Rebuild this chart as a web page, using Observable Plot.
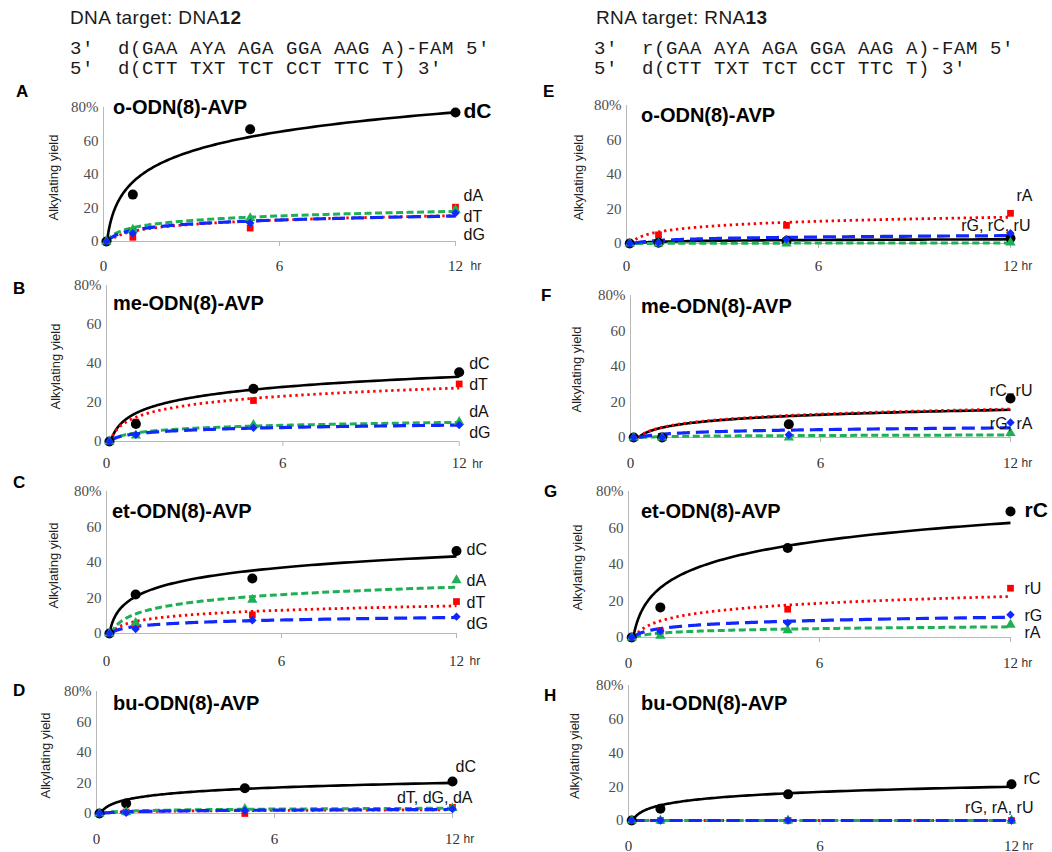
<!DOCTYPE html>
<html>
<head>
<meta charset="utf-8">
<script src="https://cdn.jsdelivr.net/npm/d3@7"></script>
<script src="https://cdn.jsdelivr.net/npm/@observablehq/plot@0.6"></script>
<style>
html,body{margin:0;padding:0;background:#fff;}
#wrap{position:relative;width:1052px;height:852px;overflow:hidden;background:#fff;font-family:"Liberation Sans",Arial,sans-serif;color:#000;}
.t{position:absolute;white-space:pre;line-height:1;}
.hdr{font-size:19px;letter-spacing:0.4px;color:#1a1a1a;}
.mono{font-family:"Liberation Mono","Courier New",monospace;font-size:19px;letter-spacing:0.6px;color:#1a1a1a;}
.letter{font-size:17px;font-weight:bold;}
.ptitle{font-size:20px;font-weight:bold;}
text.tick-serif{font-family:"Liberation Serif","DejaVu Serif","Times New Roman",serif !important;font-size:15px !important;}
</style>
</head>
<body>
<div id="wrap"></div>
<script>
// ---------------- data ----------------
const times = [0.1, 1, 5, 12];            // hr (first sample plotted just right of 0)
const xTicks = [0, 6, 12];
const yTicks = [0, 20, 40, 60, 80];
const yLabel = "Alkylating yield";
const xUnit = "hr";

const headerDNA = ["DNA target: DNA", "12"];
const headerRNA = ["RNA target: RNA", "13"];
const dnaSeq = ["3′  d(GAA AYA AGA GGA AAG A)-FAM 5′", "5′  d(CTT TXT TCT CCT TTC T) 3′"];
const rnaSeq = ["3′  r(GAA AYA AGA GGA AAG A)-FAM 5′", "5′  d(CTT TXT TCT CCT TTC T) 3′"];
const probeTitles = ["o-ODN(8)-AVP", "me-ODN(8)-AVP", "et-ODN(8)-AVP", "bu-ODN(8)-AVP"];
const panelLetters = ["A", "B", "C", "D", "E", "F", "G", "H"];

// A: DNA12, o-ODN(8)-AVP
const A_dC = [0, 28, 67, 77];
const A_dT = [0, 2.5, 8, 20.5];
const A_dA = [0, 7, 14, 19];
const A_dG = [0, 5, 11, 17];
const A_labels = ["dC", "dA", "dT", "dG"];
const A_labelY = [78, 27, 14.5, 4];

// B: DNA12, me-ODN(8)-AVP
const B_dC = [0, 9, 27, 35.5];
const B_dT = [0, 10, 21, 29.5];
const B_dA = [0, 3, 8.5, 10];
const B_dG = [0, 3.5, 7, 8.5];
const B_labels = ["dC", "dT", "dA", "dG"];
const B_labelY = [40, 29, 15, 4.6];

// C: DNA12, et-ODN(8)-AVP
const C_dC = [0, 22, 31, 46.5];
const C_dT = [0, 5, 10.5, 18];
const C_dA = [0, 6, 19, 30];
const C_dG = [0, 2.5, 7.5, 9.5];
const C_labels = ["dC", "dA", "dT", "dG"];
const C_labelY = [47, 29.4, 17.5, 5.6];

// D: DNA12, bu-ODN(8)-AVP
const D_dC = [0, 6.5, 16.5, 21];
const D_dT = [0, 1, 0, 4];
const D_dA = [0, 1, 3, 3.5];
const D_dG = [0, 0.5, 2, 3];
const D_labels = ["dC", "dT, dG, dA"];
const D_labelY = [30.6, 10.5];

// E: RNA13, o-ODN(8)-AVP
const E_rC = [0, 0.5, 1.5, 3];
const E_rA = [0, 5, 10.5, 17.5];
const E_rU = [0, 0, 0, 0.5];
const E_rG = [0, 0.5, 2.5, 6];
const E_labels = ["rA", "rG, rC, rU"];
const E_labelY = [27.7, 10.3];

// F: RNA13, me-ODN(8)-AVP
const F_rC = [0, 0, 7.5, 22];
const F_rU = [0, 0.5, 7, 23];
const F_rA = [0, 0, 0, 2.5];
const F_rG = [0, 0, 1.5, 8.5];
const F_labels = ["rC, rU", "rG, rA"];
const F_labelY = [26.3, 7.9];

// G: RNA13, et-ODN(8)-AVP
const G_rC = [0, 16.5, 49, 69];
const G_rU = [0, 3.5, 15.5, 27];
const G_rA = [0, 1, 4, 7];
const G_rG = [0, 3.5, 8, 12.5];
const G_labels = ["rC", "rU", "rG", "rA"];
const G_labelY = [69.8, 26.5, 11.9, 2.7];

// H: RNA13, bu-ODN(8)-AVP
const H_rC = [0, 7, 15.5, 21.5];
const H_rU = [0, 0, 0, 0];
const H_rA = [0, 0, 0, 0];
const H_rG = [0, 0, 0, 0];
const H_labels = ["rC", "rG, rA, rU"];
const H_labelY = [24.7, 7.3];

// ---------------- styles & layout ----------------
const S = {
  black: {color: "#000000", width: 2.6, dash: null, symbol: "circle", r: 5},
  red:   {color: "#ff0000", width: 2.8, dash: "2.4,3.6", symbol: "square", r: 3.8},
  green: {color: "#1faf55", width: 3, dash: "7,3.5", symbol: "triangle", r: 3.8},
  blue:  {color: "#1028ff", width: 3.2, dash: "13,6", symbol: "diamond2", r: 3.8}
};
const lineOrder = ["black", "red", "green", "blue"];
const dotOrder = ["red", "black", "green", "blue"];
const axisGray = "#b8b8b8";

const panels = [
  {series: {black: A_dC, red: A_dT, green: A_dA, blue: A_dG}, labels: A_labels, labelY: A_labelY, title: probeTitles[0], letter: panelLetters[0],
   g: {x0: 103, x12: 455, y80: 107, y0: 241, xlab: 29, tl: 113, tb: 113.5, lx: 16, lb: 97, yl: 55, sdx: 8, edx: 20, hr: 15, bold: "dC"}},
  {series: {black: B_dC, red: B_dT, green: B_dA, blue: B_dG}, labels: B_labels, labelY: B_labelY, title: probeTitles[1], letter: panelLetters[1],
   g: {x0: 106, x12: 458.7, y80: 285, y0: 441, xlab: 27, tl: 113, tb: 310, lx: 13, lb: 294, yl: 56, sdx: 10, edx: 20, hr: 13}},
  {series: {black: C_dC, red: C_dT, green: C_dA, blue: C_dG}, labels: C_labels, labelY: C_labelY, title: probeTitles[2], letter: panelLetters[2],
   g: {x0: 106, x12: 456, y80: 491, y0: 633, xlab: 32, tl: 112, tb: 518, lx: 13, lb: 488, yl: 58, sdx: 10, edx: 20, hr: 13}},
  {series: {black: D_dC, red: D_dT, green: D_dA, blue: D_dG}, labels: D_labels, labelY: D_labelY, title: probeTitles[3], letter: panelLetters[3],
   g: {x0: 96, x12: 452, y80: 691, y0: 813, xlab: 30, tl: 113, tb: 710, lx: 13, lb: 696, yl: 56, sdx: 3, edx: 20, hr: 11}},
  {series: {black: E_rC, red: E_rA, green: E_rU, blue: E_rG}, labels: E_labels, labelY: E_labelY, title: probeTitles[0], letter: panelLetters[4],
   g: {x0: 626, x12: 1010, y80: 105, y0: 243, xlab: 27, tl: 641, tb: 121.5, lx: 543, lb: 97, yl: 53, sdx: 6, edx: 20, hr: 11}},
  {series: {black: F_rC, red: F_rU, green: F_rA, blue: F_rG}, labels: F_labels, labelY: F_labelY, title: probeTitles[1], letter: panelLetters[5],
   g: {x0: 630, x12: 1010, y80: 295, y0: 437, xlab: 30, tl: 641, tb: 313, lx: 541, lb: 301, yl: 59, sdx: 10, edx: 22, hr: 11}},
  {series: {black: G_rC, red: G_rU, green: G_rA, blue: G_rG}, labels: G_labels, labelY: G_labelY, title: probeTitles[2], letter: panelLetters[6],
   g: {x0: 628, x12: 1010, y80: 491, y0: 637, xlab: 30, tl: 641, tb: 518, lx: 544, lb: 497, yl: 56, sdx: 14, edx: 22, hr: 11, bold: "rC"}},
  {series: {black: H_rC, red: H_rU, green: H_rA, blue: H_rG}, labels: H_labels, labelY: H_labelY, title: probeTitles[3], letter: panelLetters[7],
   g: {x0: 628, x12: 1011, y80: 685, y0: 820, xlab: 30, tl: 641, tb: 710, lx: 544, lb: 701, yl: 59, sdx: 12, edx: 22, hr: 11}}
];

// ---------------- helpers ----------------
const wrap = document.getElementById("wrap");
function addDiv(html, cls, left, top) {
  const d = document.createElement("div");
  d.className = "t " + cls;
  d.innerHTML = html;
  d.style.left = left + "px";
  d.style.top = top + "px";
  wrap.appendChild(d);
}
// baseline -> top for line-height:1 boxes
const sansTop = (baseline, size) => baseline - 0.8465 * size;
const monoTop = (baseline, size) => baseline - 0.766 * size;

// logarithmic least-squares trendline of the plotted points (as the source's trendlines)
function logFit(ts, vs) {
  const lx = ts.map(Math.log);
  const mx = d3.mean(lx), my = d3.mean(vs);
  let sxy = 0, sxx = 0;
  lx.forEach((l, i) => { sxy += (l - mx) * (vs[i] - my); sxx += (l - mx) ** 2; });
  const a = sxx ? sxy / sxx : 0;
  return {a, b: my - a * mx};
}
function trend(ts, vs) {
  const {a, b} = logFit(ts, vs);
  const tEnd = ts[ts.length - 1];
  const start = a > 0 ? Math.max(ts[0], Math.exp(-b / a)) : ts[0];
  const n = 160;
  return d3.range(n + 1).map(k => {
    const t = start * Math.pow(tEnd / start, k / n);
    return {t, v: Math.max(0, a * Math.log(t) + b)};
  });
}

// ---------------- headers ----------------
addDiv(headerDNA[0] + "<b>" + headerDNA[1] + "</b>", "hdr", 70, sansTop(24, 19));
addDiv(headerRNA[0] + "<b>" + headerRNA[1] + "</b>", "hdr", 596, sansTop(24, 19));
addDiv(dnaSeq[0], "mono", 70, monoTop(54.5, 19));
addDiv(dnaSeq[1], "mono", 70, monoTop(74.5, 19));
addDiv(rnaSeq[0], "mono", 594, monoTop(54.5, 19));
addDiv(rnaSeq[1], "mono", 594, monoTop(74.5, 19));

// ---------------- panels ----------------
const serif = "'Liberation Serif', 'DejaVu Serif', 'Times New Roman', serif";
const sans = "'Liberation Sans', Arial, sans-serif";
const tickText = new Set([...xTicks.map(String), ...yTicks.map(String), "80%"]);

for (const p of panels) {
  const g = p.g;
  const ml = 75, mr = 80, mt = 25, mb = 45;
  const w = g.x12 - g.x0, h = g.y0 - g.y80;
  const pad = g.xlab - 5 - 10.65;

  const lineMarks = lineOrder.map(role => {
    const st = S[role];
    return Plot.line(trend(times, p.series[role]), {
      x: "t", y: "v", stroke: st.color, strokeWidth: st.width,
      strokeDasharray: st.dash || undefined, strokeLinecap: "butt"
    });
  });
  const dotMarks = dotOrder.map(role => {
    const st = S[role];
    const vals = p.series[role];
    return Plot.dot(times.map((t, i) => ({t, v: vals[i]})), {
      x: "t", y: "v", fill: st.color, stroke: "none", symbol: st.symbol, r: st.r
    });
  });

  const lab = p.labels.map((text, i) => ({text, y: p.labelY[i]}));
  const labStart = lab.filter(d => !d.text.includes(",") && d.text !== g.bold);
  const labEnd = lab.filter(d => d.text.includes(","));
  const labBold = lab.filter(d => d.text === g.bold);

  const svg = Plot.plot({
    width: ml + w + mr,
    height: mt + h + mb,
    marginLeft: ml, marginRight: mr, marginTop: mt, marginBottom: mb,
    x: {domain: [0, 12]},
    y: {domain: [0, 80]},
    style: {background: "transparent", overflow: "visible"},
    marks: [
      Plot.ruleY([0], {stroke: axisGray, strokeWidth: 1}),
      Plot.ruleX([0], {stroke: axisGray, strokeWidth: 1}),
      Plot.axisX({ticks: xTicks, tickSize: 5, tickPadding: pad, stroke: axisGray, fill: "#333",
                  fontSize: 15, fontFamily: serif, tickFormat: d => String(d), label: null}),
      Plot.axisY({ticks: yTicks, tickSize: 0, tickPadding: 5, fill: "#4d4d4d",
                  fontSize: 15, fontFamily: serif, tickFormat: d => d === 80 ? "80%" : String(d), label: null}),
      Plot.text([xUnit], {text: d => d, x: 12, y: 0, dx: g.hr, dy: 5 + pad + 2.1, lineAnchor: "top",
                          textAnchor: "start", fontSize: 12, fontFamily: sans, fill: "#333"}),
      Plot.text([yLabel], {text: d => d, frameAnchor: "left", rotate: -90, dx: -g.yl, dy: 3,
                           lineAnchor: "top", textAnchor: "middle", fontSize: 13, fontFamily: sans, fill: "#222"}),
      ...lineMarks,
      ...dotMarks,
      Plot.text(labStart, {x: 12, y: "y", text: "text", dx: g.sdx, textAnchor: "start",
                           fontSize: 16, fontFamily: sans, fill: "#111"}),
      Plot.text(labEnd, {x: 12, y: "y", text: "text", dx: g.edx, textAnchor: "end",
                         fontSize: 16, fontFamily: sans, fill: "#111"}),
      Plot.text(labBold, {x: 12, y: "y", text: "text", dx: g.sdx, textAnchor: "start",
                          fontSize: 21, fontWeight: "bold", fontFamily: sans, fill: "#000"})
    ]
  });
  svg.style.position = "absolute";
  svg.style.left = (g.x0 - ml) + "px";
  svg.style.top = (g.y80 - mt) + "px";
  svg.style.maxWidth = "none";
  // tick labels in a serif face, as in the source
  svg.querySelectorAll("text").forEach(el => {
    if (tickText.has(el.textContent.trim())) {
      el.classList.add("tick-serif");
      el.setAttribute("font-family", serif);
      el.style.fontFamily = serif;
    }
  });
  wrap.appendChild(svg);

  addDiv(p.letter, "letter", g.lx, sansTop(g.lb, 17));
  addDiv(p.title, "ptitle", g.tl, sansTop(g.tb, 20));
}
</script>
</body>
</html>
